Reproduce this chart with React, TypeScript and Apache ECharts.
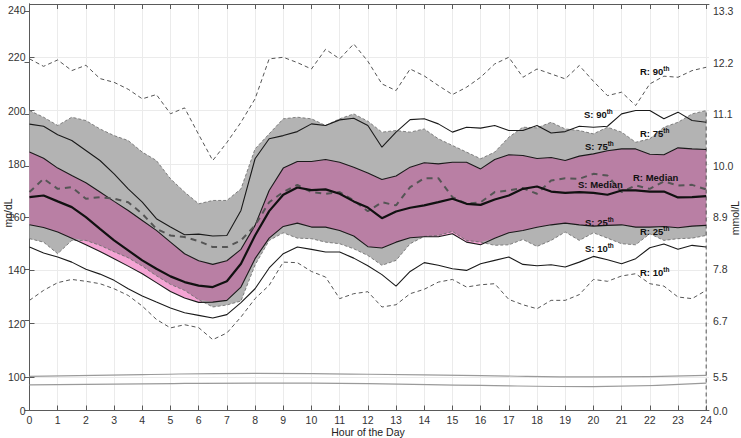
import React, { useEffect, useRef } from "react";
import * as echarts from "echarts";

// ---- data (mg/dL), every half hour ----
const HOURS = [
  0, 0.5, 1, 1.5, 2, 2.5, 3, 3.5, 4, 4.5, 5, 5.5, 6, 6.5, 7, 7.5, 8, 8.5, 9, 9.5, 10, 10.5, 11, 11.5, 12,
  12.5, 13, 13.5, 14, 14.5, 15, 15.5, 16, 16.5, 17, 17.5, 18, 18.5, 19, 19.5, 20, 20.5, 21, 21.5, 22, 22.5,
  23, 23.5, 24,
];

const R90 = [
  219.4, 216.6, 219, 215, 217, 212, 210.6, 208, 204.4, 206, 198.8, 201, 191,
  181.25, 188, 195.6, 204.4, 219.4, 220, 218, 215.6, 223, 219.4, 225, 218.5,
  210, 207.5, 215.6, 213, 209.4, 206, 208.75, 212.5, 217.5, 220, 212.5, 215.6,
  213.75, 211.9, 216.9, 211, 205.6, 206.9, 201.9, 210, 212.9, 212.5, 215, 216.25,
];
const R75 = [
  200, 197.5, 194.4, 197.5, 196.25, 193.1, 190.6, 188.75, 184.4, 181.25, 174.4, 169.4, 165,
  166.25, 166.25, 170.6, 185.6, 191.25, 196.9, 197.5, 196.9, 194.4, 196.9, 198.75, 196,
  191.9, 192.5, 191.9, 193.1, 189.4, 186.9, 184.4, 181.9, 184.4, 190, 193.75, 193.5,
  195.6, 193.1, 192.5, 191.25, 193.75, 191.9, 188.1, 189.4, 193.75, 195.6, 198.75, 200,
];
const RMED = [
  169.4, 174.4, 170.6, 171.25, 166.9, 167.5, 166.9, 165.6, 161.25, 155.6, 153.1, 152.5, 151,
  148.75, 148.75, 151.25, 156.9, 165.6, 169.4, 172.1, 169.4, 168.75, 169.4, 166.25, 162.2,
  165.6, 164.4, 171.25, 174.6, 174.6, 167.5, 165, 165.6, 169.4, 170, 170.9, 168.75,
  173.75, 174.6, 174.4, 176.25, 175.6, 169.4, 171.9, 170.6, 173.4, 171.9, 172.1, 170.4,
];
const R25 = [
  151.9, 150.6, 146.25, 151.25, 151.25, 149.4, 147, 144.75, 141.6, 138, 134.75, 132.5, 129,
  126.25, 127, 128.5, 142, 151.25, 154.1, 152.1, 151.9, 150.6, 150, 148.1, 145.6,
  141.9, 143.75, 150, 152.75, 153.1, 154.6, 151.25, 150.6, 149.4, 149.6, 151.6, 149,
  151.25, 154.4, 151.25, 154.1, 152.1, 150, 149.6, 153.75, 151.25, 151.9, 152.1, 153.1,
];
const R10 = [
  128.75, 132.5, 135.4, 136.6, 135.9, 135, 133.1, 130.6, 126.6, 121.6, 118.4, 119.6, 118.5,
  114, 116.5, 122.5, 129.4, 134.4, 143.1, 142.9, 139.6, 137.5, 129.4, 131.25, 132,
  126.25, 127.1, 131.25, 132.9, 135.6, 136.6, 133.75, 134.6, 135, 129.1, 127.1, 125.6,
  128.75, 128.75, 130.9, 136.6, 135.9, 137.9, 138.75, 135, 134.1, 130, 129.4, 132.5,
];
const S90 = [
  194.9, 194.1, 190.9, 188.75, 185, 181.25, 176.25, 170.6, 165.6, 159.4, 156.25, 153.4, 153.6,
  152.9, 153.1, 162.5, 181.9, 189.4, 190.6, 192.1, 195, 194.4, 196.5, 197.1, 194.4,
  186.25, 191.9, 196.6, 196.9, 195, 191.9, 193.75, 193.4, 194.4, 192.5, 192.5, 194.4,
  191.6, 192.1, 194.1, 193.75, 194.1, 198.75, 200, 200, 196.9, 199.4, 196.25, 195.6,
];
const S75 = [
  184.4, 182.1, 178.4, 175.6, 172.9, 169.4, 165.9, 162.5, 158.75, 155, 150.6, 146.25, 143.6,
  142.25, 143.6, 147.9, 156.9, 170, 178.4, 180.9, 180.9, 181.6, 180.6, 178.75, 176.6,
  174.1, 175.4, 178.75, 180.4, 180, 180.6, 180.6, 178.1, 181.6, 183.4, 183.1, 182,
  182.4, 181.25, 182.9, 183.75, 184.9, 185.6, 185.6, 183.6, 183.4, 186, 185.6, 185.4,
];
const SMED = [
  167.5, 168.1, 165.9, 163.75, 160, 155.6, 151.25, 147.5, 143.75, 140.6, 137.75, 135.6, 134.3,
  133.75, 135.9, 142.5, 153.1, 162.25, 168.4, 171.1, 170.1, 170.4, 168.75, 165.9, 163.6,
  159.6, 162.1, 163.5, 164.4, 165.6, 166.9, 165, 164.6, 166.6, 168.1, 170.6, 171.5,
  169.6, 169.1, 169.4, 169.1, 168.4, 170, 170, 169.6, 169.6, 167.4, 167.5, 167.9,
];
const S25 = [
  157.1, 156.1, 154.4, 152.1, 149.6, 147.1, 144.4, 141.6, 138.75, 135.4, 132.1, 129.6, 128,
  128.1, 128.75, 133.75, 144.4, 152.1, 156.5, 157.75, 156.25, 156.25, 155, 152.9, 148.9,
  148.4, 150.6, 152.25, 152.6, 152.6, 153.75, 150.6, 149.6, 152.1, 154.1, 155, 156.2,
  157.1, 157.75, 157.1, 156.6, 156.9, 157.1, 156.25, 156.25, 156.5, 156, 156.6, 156.9,
];
const S10 = [
  148.75, 146.5, 145, 143.1, 140.4, 138.6, 136.25, 133.1, 130.4, 128.1, 125.9, 124.1, 123.1,
  122.1, 123.4, 127.9, 133.1, 140.9, 146.25, 148.75, 147.9, 146.9, 146.9, 144.6, 141.75,
  138.4, 134.1, 139.6, 142.9, 141.9, 140.6, 140, 142.5, 143.75, 145, 142.25, 141.75,
  142.1, 141.25, 143.1, 145.25, 144, 142.5, 144.4, 148.5, 149.9, 147.9, 149.4, 148.75,
];

// axis-break marks near the bottom of the plot
const BREAK_HOURS = [0, 4, 8, 12, 16, 20, 24];
const BREAK_UPPER = [100.2, 100.9, 101.3, 101.0, 100.5, 100.0, 100.6];
const BREAK_LOWER = [97.0, 97.4, 97.7, 97.5, 96.8, 96.4, 97.7];

// ticks
const X_TICKS = [0, 1, 2, 3, 4, 5, 6, 7, 8, 9, 10, 11, 12, 13, 14, 15, 16, 17, 18, 19, 20, 21, 22, 23, 24];
const Y_AXIS_MIN = 87.4; // broken axis: shown as 0
const Y_TICKS = [87.4, 100, 120, 140, 160, 180, 200, 220, 240];
const MMOL_AXIS_MIN = 4.786; // broken axis: shown as 0.0
const MMOL_TICKS = [4.786, 5.5, 6.7, 7.8, 8.9, 10.0, 11.1, 12.2, 13.3];
const MMOL_LABELS = ["0.0", "5.5", "6.7", "7.8", "8.9", "10.0", "11.1", "12.2", "13.3"];

const LABELS = [
  { s: "R: 90", sup: "th", x: 640, y: 71 },
  { s: "S: 90", sup: "th", x: 584, y: 114 },
  { s: "R: 75", sup: "th", x: 640, y: 133 },
  { s: "S: 75", sup: "th", x: 585, y: 146 },
  { s: "S: Median", sup: "", x: 578, y: 185 },
  { s: "R: Median", sup: "", x: 633, y: 178 },
  { s: "S: 25", sup: "th", x: 585, y: 222 },
  { s: "R: 25", sup: "th", x: 640, y: 231 },
  { s: "S: 10", sup: "th", x: 585, y: 248 },
  { s: "R: 10", sup: "th", x: 640, y: 272 },
];

const zip = (xs: number[], ys: number[]) => xs.map((x, i) => [x, ys[i]]);

function band(name: string, lower: number[], upper: number[], color: string, z: number) {
  return {
    type: "custom",
    name,
    z,
    silent: true,
    coordinateSystem: "cartesian2d",
    data: [[HOURS[0], lower[0]]],
    renderItem: (params: any, api: any) => {
      if (params.dataIndex !== 0) return null;
      const pts: number[][] = [];
      for (let i = 0; i < HOURS.length; i++) pts.push(api.coord([HOURS[i], upper[i]]));
      for (let i = HOURS.length - 1; i >= 0; i--) pts.push(api.coord([HOURS[i], lower[i]]));
      return { type: "polygon", shape: { points: pts }, style: { fill: color, stroke: null } };
    },
  };
}

function line(name: string, ys: number[], color: string, width: number, type: any, z: number) {
  return {
    type: "line",
    name,
    z,
    data: zip(HOURS, ys),
    showSymbol: false,
    symbol: "none",
    silent: true,
    lineStyle: { color, width, type },
  };
}

export default function App() {
  const ref = useRef<HTMLDivElement>(null);
  useEffect(() => {
    if (!ref.current) return;
    const chart = echarts.init(ref.current, null, { renderer: "svg" });
    const overlapLow = HOURS.map((_, i) => Math.max(R25[i], S25[i]));
    const overlapHigh = HOURS.map((_, i) => Math.min(R75[i], S75[i]));
    const font = "'Liberation Sans', Arial, sans-serif";
    const axisCommon = {
      axisLine: { show: true, lineStyle: { color: "#5a5a5a", width: 1 } },
      axisTick: { show: true, inside: true, length: 5, lineStyle: { color: "#5a5a5a" } },
    };
    const tickFont = { color: "#333", fontSize: 10.5, fontFamily: font };
    const nameStyle = { fontSize: 10.5, fontFamily: font, fill: "#222", align: "center", verticalAlign: "middle" };
    chart.setOption({
      animation: false,
      backgroundColor: "#ffffff",
      grid: { left: 29.5, right: 32, top: 4, bottom: 27.5, containLabel: false, outerBoundsMode: "none" },
      xAxis: [
        {
          type: "value",
          min: 0,
          max: 24.1,
          position: "bottom",
          ...axisCommon,
          axisTick: { ...axisCommon.axisTick, customValues: X_TICKS },
          axisLabel: { customValues: X_TICKS, ...tickFont, margin: 4 },
          splitLine: { show: true, lineStyle: { color: "#ebebeb", width: 1 } },
        },
        {
          type: "value",
          min: 0,
          max: 24.1,
          position: "top",
          ...axisCommon,
          axisTick: { ...axisCommon.axisTick, customValues: X_TICKS },
          axisLabel: { show: false },
          splitLine: { show: false },
        },
      ],
      yAxis: [
        {
          type: "value",
          min: Y_AXIS_MIN,
          max: 240,
          position: "left",
          ...axisCommon,
          axisTick: { ...axisCommon.axisTick, customValues: Y_TICKS },
          axisLabel: {
            customValues: Y_TICKS,
            ...tickFont,
            margin: 4,
            verticalAlignMaxLabel: "top",
            formatter: (v: number) => (v < 90 ? "0" : String(Math.round(v))),
          },
          splitLine: { show: true, lineStyle: { color: "#ebebeb", width: 1 } },
        },
        {
          type: "value",
          min: MMOL_AXIS_MIN,
          max: 13.45,
          position: "right",
          ...axisCommon,
          axisTick: { ...axisCommon.axisTick, customValues: MMOL_TICKS },
          axisLabel: {
            customValues: MMOL_TICKS,
            ...tickFont,
            margin: 4,
            formatter: (v: number) => {
              const i = MMOL_TICKS.findIndex((t) => Math.abs(t - v) < 1e-6);
              return i >= 0 ? MMOL_LABELS[i] : "";
            },
          },
          splitLine: { show: false },
        },
      ],
      series: [
        band("S 25-75", S25, S75, "#f4a4d4", 1),
        band("R 25-75", R25, R75, "#b3b3b3", 2),
        band("overlap", overlapLow, overlapHigh, "#b97fa4", 3),
        line("R 75th", R75, "#6a6a6a", 0.8, [3, 2], 4),
        line("R 25th", R25, "#6a6a6a", 0.8, [3, 2], 4),
        line("R 90th", R90, "#555", 1, [4, 3], 5),
        line("R 10th", R10, "#555", 1, [4, 3], 5),
        line("S 90th", S90, "#1a1a1a", 1.1, "solid", 6),
        line("S 75th", S75, "#1a1a1a", 1.1, "solid", 6),
        line("S 25th", S25, "#1a1a1a", 1.1, "solid", 6),
        line("S 10th", S10, "#1a1a1a", 1.1, "solid", 6),
        line("R Median", RMED, "#555", 2, [6, 5], 7),
        line("S Median", SMED, "#111", 2.2, "solid", 8),
        {
          type: "line",
          name: "edge 24",
          z: 5,
          silent: true,
          symbol: "none",
          data: [[24, Y_AXIS_MIN], [24, R75[R75.length - 1]]],
          lineStyle: { color: "#555", width: 1, type: [4, 3] },
        },
        {
          type: "line",
          name: "break upper",
          z: 5,
          silent: true,
          symbol: "none",
          smooth: true,
          data: zip(BREAK_HOURS, BREAK_UPPER),
          lineStyle: { color: "#9a9a9a", width: 1.2 },
        },
        {
          type: "line",
          name: "break lower",
          z: 5,
          silent: true,
          symbol: "none",
          smooth: true,
          data: zip(BREAK_HOURS, BREAK_LOWER),
          lineStyle: { color: "#9a9a9a", width: 1.2 },
        },
      ],
      graphic: [
        ...LABELS.map((l) => ({
          type: "text",
          left: l.x,
          top: l.y - 6,
          z: 100,
          silent: true,
          style: {
            text: l.sup ? `{a|${l.s}}{b|${l.sup}}` : `{a|${l.s}}`,
            rich: {
              a: { fontSize: 9.5, fontWeight: "bold", fontFamily: font, fill: "#111", verticalAlign: "bottom" },
              b: { fontSize: 6.5, fontWeight: "bold", fontFamily: font, fill: "#111", verticalAlign: "top", padding: [0, 0, 4, 0] },
            },
          },
        })),
        { type: "text", x: 8, y: 213, rotation: Math.PI / 2, silent: true, style: { ...nameStyle, text: "mg/dL" } },
        { type: "text", x: 735, y: 218, rotation: Math.PI / 2, silent: true, style: { ...nameStyle, text: "mmol/L" } },
        { type: "text", x: 368, y: 431.5, silent: true, style: { ...nameStyle, text: "Hour of the Day" } },
      ],
    });
    return () => chart.dispose();
  }, []);
  return (
    <div
      ref={ref}
      style={{ position: "absolute", left: 0, top: 0, width: 741, height: 438 }}
    />
  );
}
